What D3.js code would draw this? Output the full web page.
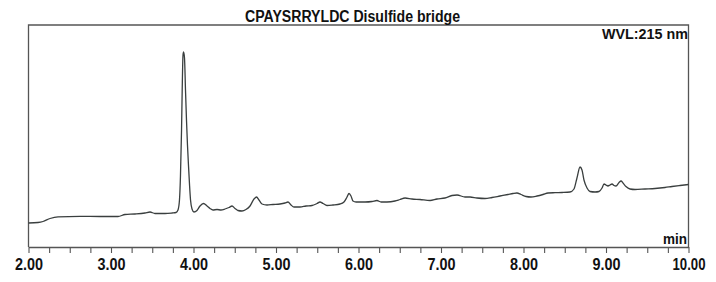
<!DOCTYPE html>
<html>
<head>
<meta charset="utf-8">
<script src="https://cdn.jsdelivr.net/npm/d3@7"></script>
<style>
  html, body { margin: 0; padding: 0; background: #fff; }
  svg { display: block; }
  text { font-family: "Liberation Sans", Arial, sans-serif; font-weight: bold; fill: #111; }
</style>
</head>
<body>
<script>
// Retention time (min)
const times = [
  2.000, 2.115, 2.176, 2.261, 2.358, 2.624, 2.867, 3.085, 3.170, 3.291,
  3.412, 3.473, 3.533, 3.655, 3.739, 3.788, 3.812, 3.830, 3.842, 3.855,
  3.863, 3.873, 3.880, 3.891, 3.903, 3.915, 3.927, 3.939, 3.952, 3.964,
  3.982, 4.006, 4.042, 4.079, 4.121, 4.164, 4.200, 4.236, 4.285, 4.333,
  4.382, 4.430, 4.467, 4.503, 4.539, 4.588, 4.636, 4.685, 4.733, 4.764,
  4.794, 4.830, 4.891, 4.964, 5.048, 5.109, 5.145, 5.182, 5.218, 5.291,
  5.364, 5.436, 5.497, 5.533, 5.570, 5.618, 5.691, 5.776, 5.824, 5.861,
  5.885, 5.909, 5.933, 5.970, 6.079, 6.164, 6.224, 6.273, 6.345, 6.442,
  6.503, 6.564, 6.648, 6.745, 6.867, 6.952, 7.048, 7.133, 7.194, 7.291,
  7.352, 7.436, 7.533, 7.618, 7.715, 7.812, 7.873, 7.921, 7.970, 8.030,
  8.091, 8.164, 8.236, 8.297, 8.382, 8.467, 8.564, 8.612, 8.648, 8.685,
  8.709, 8.733, 8.770, 8.806, 8.867, 8.915, 8.952, 8.976, 9.000, 9.024,
  9.048, 9.073, 9.097, 9.121, 9.158, 9.182, 9.206, 9.242, 9.291, 9.352,
  9.473, 9.594, 9.715, 9.800, 9.897, 10.000
];
// Absorbance at 215 nm (arbitrary units)
const absorbance = [
  24, 24.5, 25.5, 28.5, 30.2, 30.7, 30.5, 30.5, 32.5, 33,
  34, 35, 33.5, 33.5, 34, 34.5, 37, 47, 71, 117,
  157, 192, 195, 189, 157, 127, 102, 82, 62, 47,
  38, 35, 36.5, 41, 43.5, 41, 38.5, 37, 37.5, 37,
  38, 39.5, 41, 38.5, 36.5, 36, 37.5, 41, 48, 50,
  47, 43, 42, 42.5, 43, 44, 45, 42, 40, 40,
  41, 41.5, 43.5, 45, 43.5, 41.5, 42, 43, 45, 50,
  53.5, 51, 46, 45, 45, 45.5, 46.5, 45, 45, 46,
  47.5, 49, 48, 47.5, 46.5, 48, 49, 51.5, 52, 50,
  50, 49, 48.5, 49.5, 51, 52.5, 53.5, 54, 52.5, 50.5,
  50, 51, 52.5, 54, 54.3, 54.5, 55, 58, 69, 80,
  77, 67, 59, 55.5, 55, 55.5, 59, 63, 62, 61,
  62, 63, 61.5, 61, 64.5, 66, 64, 60.5, 58, 57.5,
  58, 58.5, 59.5, 60.5, 61.5, 62.5
];
const xDomain = [2, 10];
const yDomain = [0, 222];
const majorTicks = [2, 3, 4, 5, 6, 7, 8, 9, 10];
const title = "CPAYSRRYLDC Disulfide bridge";
const wavelengthLabel = "WVL:215 nm";
const xUnitLabel = "min";

const W = 716, H = 282;
const m = { left: 28.5, right: 27.5, top: 25, bottom: 35 };

const svg = d3.select("body").append("svg").attr("width", W).attr("height", H);

const x = d3.scaleLinear().domain(xDomain).range([m.left, W - m.right]);
const y = d3.scaleLinear().domain(yDomain).range([H - m.bottom, m.top]);

const data = times.map((t, i) => [t, absorbance[i]]);

// frame: top, left, right
const frame = svg.append("g").attr("stroke", "#555").attr("stroke-width", 1.3).attr("fill", "none");
frame.append("path").attr("d", `M${x(2)},${y(0)}V${y(222)}H${x(10)}V${y(0)}`);

// axis
const minorTicks = d3.range(0, 33).map(i => 2 + i * 0.25);
const axis = d3.axisBottom(x)
  .tickValues(minorTicks)
  .tickSize(6)
  .tickSizeOuter(0)
  .tickFormat(d => majorTicks.includes(d) ? d3.format(".2f")(d) : "");
const gx = svg.append("g").attr("transform", `translate(0,${y(0)})`).call(axis);
gx.select(".domain").attr("stroke", "#555").attr("stroke-width", 1.3);
gx.selectAll(".tick line").attr("stroke", "#555").attr("stroke-width", 1.1);
gx.selectAll(".tick text")
  .attr("y", 12)
  .attr("dy", "0.71em")
  .style("font-family", '"Liberation Sans", Arial, sans-serif')
  .style("font-weight", "bold")
  .style("font-size", "16px")
  .attr("fill", "#111")
  .each(function(d) {
    if (majorTicks.includes(d)) {
      d3.select(this).attr("textLength", d >= 10 ? 33 : 28).attr("lengthAdjust", "spacingAndGlyphs");
    }
  });

// trace
const line = d3.line().x(d => x(d[0])).y(d => y(d[1])).curve(d3.curveMonotoneX);
svg.append("path").datum(data)
  .attr("d", line)
  .attr("fill", "none")
  .attr("stroke", "#3a3f3f")
  .attr("stroke-width", 1.3);

// texts
svg.append("text").attr("x", 352.5).attr("y", 21.5)
  .attr("text-anchor", "middle").style("font-size", "16px")
  .attr("textLength", 215).attr("lengthAdjust", "spacingAndGlyphs").text(title);
svg.append("text").attr("x", x(10) - 0.5).attr("y", 38.5)
  .attr("text-anchor", "end").style("font-size", "15px")
  .attr("textLength", 86).attr("lengthAdjust", "spacingAndGlyphs").text(wavelengthLabel);
svg.append("text").attr("x", x(10) - 1.5).attr("y", 243.5)
  .attr("text-anchor", "end").style("font-size", "15px")
  .attr("textLength", 24).attr("lengthAdjust", "spacingAndGlyphs").text(xUnitLabel);
</script>
</body>
</html>
